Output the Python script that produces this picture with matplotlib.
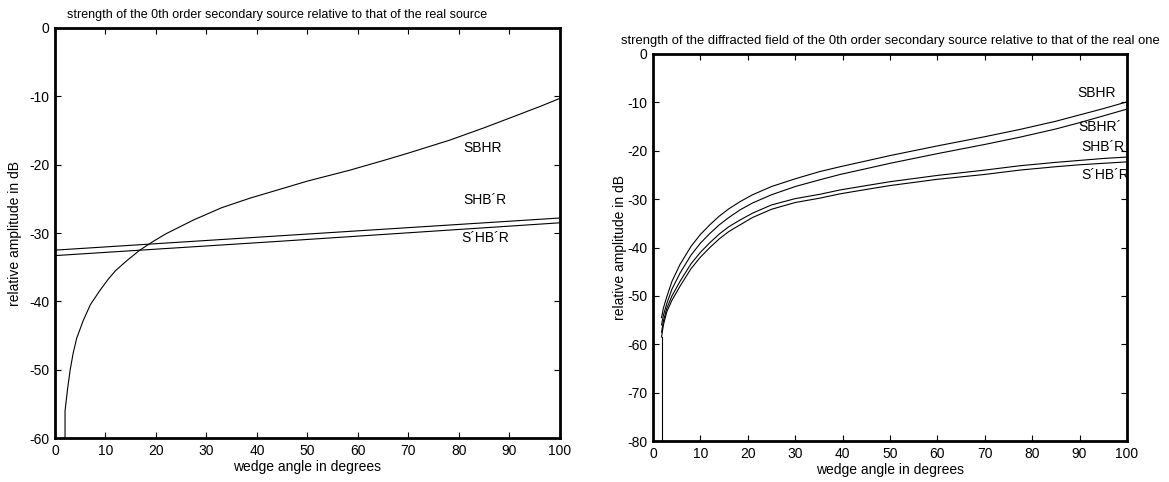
import numpy as np
import matplotlib.pyplot as plt

plt.rcParams['font.family'] = ['Liberation Sans', 'DejaVu Sans']
plt.rcParams['axes.unicode_minus'] = False

# left panel: strength of the 0th order secondary source
l_sbhr_x = [2, 2, 2.5, 3, 3.6, 4.3, 5.6, 7, 8.9, 10.5, 12, 14.3, 16.8, 19.5, 22, 27.4, 33, 38.6, 45, 50, 58.4,
            65, 70, 78.2, 85, 91.4, 96, 100]
l_sbhr_y = [-60, -56, -52.8, -50.1, -47.6, -45.4, -42.8, -40.5, -38.4, -36.8, -35.5, -34.0, -32.5, -31.2,
            -30.1, -28.1, -26.3, -24.9, -23.5, -22.4, -20.8, -19.4, -18.3, -16.4, -14.6, -12.8, -11.5, -10.3]
l_shbr_x = [0, 44.6, 100]
l_shbr_y = [-32.5, -30.4, -27.8]
l_sphbr_x = [0, 44.6, 100]
l_sphbr_y = [-33.3, -31.2, -28.5]

# right panel: diffracted field of the 0th order secondary source
r_x = [1.8, 2.2, 2.9, 4, 5.7, 8, 10, 12, 14, 16, 18.4, 21, 25, 30, 35.2, 39.5, 45, 50, 60, 70, 77.4, 85,
       90, 95, 100]
r_sbhr = [-54.5, -52.5, -50.2, -47.0, -43.5, -39.8, -37.3, -35.3, -33.5, -32.0, -30.5, -29.1, -27.4, -25.8,
          -24.3, -23.3, -22.1, -21.0, -19.0, -17.1, -15.6, -13.9, -12.6, -11.3, -9.9]
r_sbhrp = [-56.0, -54.0, -51.6, -48.6, -45.3, -41.6, -39.1, -37.1, -35.3, -33.8, -32.2, -30.8, -29.1, -27.4,
           -26.0, -24.9, -23.7, -22.6, -20.6, -18.7, -17.2, -15.5, -14.2, -12.8, -11.4]
r_shbr = [-57.5, -55.2, -52.6, -50.0, -47.0, -43.4, -41.0, -39.0, -37.2, -35.7, -34.3, -32.9, -31.2, -29.9,
          -29.0, -28.1, -27.2, -26.4, -25.1, -24.0, -23.1, -22.4, -22.0, -21.6, -21.3]
r_sphbr = [-58.5, -56.0, -53.3, -50.9, -48.0, -44.4, -42.0, -40.0, -38.2, -36.7, -35.3, -33.8, -32.1, -30.7,
           -29.8, -28.9, -28.0, -27.2, -25.9, -24.9, -24.0, -23.3, -22.9, -22.6, -22.3]

fig = plt.figure(figsize=(11.69, 4.82), dpi=100)
ax1 = fig.add_axes([0.047, 0.091, 0.432, 0.851])
ax2 = fig.add_axes([0.5586, 0.085, 0.4054, 0.803])

lw = 0.8
ax1.plot(l_sbhr_x, l_sbhr_y, color='black', lw=lw)
ax1.plot(l_shbr_x, l_shbr_y, color='black', lw=lw)
ax1.plot(l_sphbr_x, l_sphbr_y, color='black', lw=lw)
ax1.text(84.6, -17.5, 'SBHR', ha='center', va='center', fontsize=10)
ax1.text(85.1, -25.2, 'SHB\u00b4R', ha='center', va='center', fontsize=10)
ax1.text(85.1, -30.7, 'S\u00b4HB\u00b4R', ha='center', va='center', fontsize=10)
ax1.set_ylim(-60, 0)
ax1.set_yticks(np.arange(-60, 1, 10))
ax1.set_title('strength of the 0th order secondary source relative to that of the real source',
              fontsize=9, pad=7, x=0.439)

ax2.plot([1.8, 1.8], [-80, -58.5], color='black', lw=lw)
for ys in [r_sbhr, r_sbhrp, r_shbr, r_sphbr]:
    ax2.plot(r_x, ys, color='black', lw=lw)
ax2.text(93.5, -8.1, 'SBHR', ha='center', va='center', fontsize=10)
ax2.text(94.3, -15.1, 'SBHR\u00b4', ha='center', va='center', fontsize=10)
ax2.text(95.0, -19.2, 'SHB\u00b4R', ha='center', va='center', fontsize=10)
ax2.text(95.4, -25.0, 'S\u00b4HB\u00b4R', ha='center', va='center', fontsize=10)
ax2.set_ylim(-80, 0)
ax2.set_yticks(np.arange(-80, 1, 10))
ax2.set_title('strength of the diffracted field of the 0th order secondary source relative to that of the real one',
              fontsize=9.4, pad=7)

for ax in (ax1, ax2):
    ax.set_xlim(0, 100)
    ax.set_xticks(np.arange(0, 101, 10))
    ax.tick_params(direction='in', top=True, right=True, labelsize=10, length=4, width=0.8, pad=4)
    for s in ax.spines.values():
        s.set_linewidth(2)
    ax.set_xlabel('wedge angle in degrees', fontsize=10, labelpad=2)
ax1.set_ylabel('relative amplitude in dB', fontsize=10, labelpad=5)
ax2.set_ylabel('relative amplitude in dB', fontsize=10, labelpad=0)

fig.savefig('out.png', dpi=100)
